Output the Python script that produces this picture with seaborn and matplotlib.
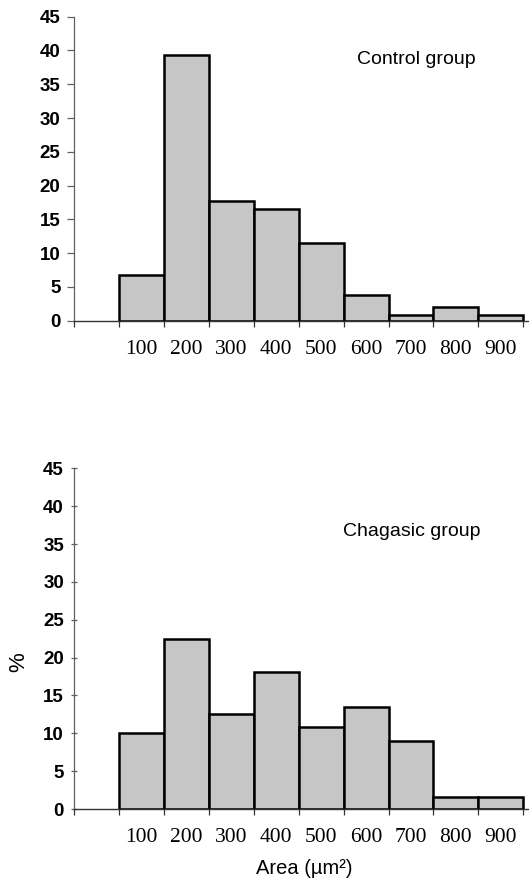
import matplotlib
matplotlib.use("Agg")
import matplotlib.pyplot as plt
import seaborn as sns
import pandas as pd

# bin centres (um^2) and percentages
area_centers = [100, 200, 300, 400, 500, 600, 700, 800, 900]
control_pct = [6.7, 39.4, 17.7, 16.5, 11.5, 3.8, 0.8, 2.1, 0.8]
chagasic_pct = [10.0, 22.5, 12.5, 18.1, 10.8, 13.5, 9.0, 1.6, 1.6]
tick_labels = ["100", "200", "300", "400", "500", "600", "700", "800", "900"]
y_ticks = [0, 5, 10, 15, 20, 25, 30, 35, 40, 45]

bin_edges = [c - 50 for c in area_centers] + [area_centers[-1] + 50]
tick_edges = [bin_edges[0] - 100] + bin_edges

sns.set_theme(style="white")
plt.rcParams["font.family"] = ["Liberation Sans", "DejaVu Sans"]
plt.rcParams["text.color"] = "black"
plt.rcParams["xtick.labelcolor"] = "black"
plt.rcParams["ytick.labelcolor"] = "black"

W, H = 529, 885
fig = plt.figure(figsize=(W / 100, H / 100), dpi=100)


def panel(rect, values, label, label_xy, ytick_dir):
    ax = fig.add_axes(rect)
    df = pd.DataFrame({"area": area_centers, "pct": values})
    sns.histplot(data=df, x="area", weights="pct", bins=bin_edges,
                 stat="count", color="#c6c6c6", alpha=1.0,
                 edgecolor="black", linewidth=1.8, ax=ax)
    ax.set_xlim(-50, 963)
    ax.set_ylim(0, 45)
    ax.set_xlabel("")
    ax.set_ylabel("")
    for s in ["top", "right"]:
        ax.spines[s].set_visible(False)
    ax.spines["left"].set_color("#606060")
    ax.spines["left"].set_linewidth(0.9)
    ax.spines["bottom"].set_color("#333333")
    ax.spines["bottom"].set_linewidth(1.0)

    ax.set_yticks(y_ticks)
    ax.set_yticklabels([str(t) for t in y_ticks], fontsize=13.5,
                       fontweight="bold", family="Liberation Sans")
    ax.tick_params(axis="y", direction=ytick_dir, length=5, width=0.9,
                   color="#606060", pad=5, left=True)

    ax.set_xticks(tick_edges)
    ax.set_xticklabels([])
    ax.set_xticks(area_centers, minor=True)
    ax.set_xticklabels(tick_labels, minor=True, fontsize=15.5,
                       family="Liberation Serif")
    ax.tick_params(axis="x", which="major", direction="out", length=4,
                   width=0.9, color="#333333", bottom=True)
    ax.tick_params(axis="x", which="minor", length=0, pad=14, bottom=True)

    ax.text(label_xy[0], label_xy[1], label, ha="center", va="center",
            fontsize=14)
    return ax


ax_top = panel([74.3 / W, 1 - 320.7 / H, 1 - 74.3 / W, (320.7 - 16.7) / H],
               control_pct, "Control group", (711, 38.7), "out")
ax_bot = panel([74.3 / W, 1 - 809 / H, 1 - 74.3 / W, (809 - 468.3) / H],
               chagasic_pct, "Chagasic group", (702, 36.7), "inout")

fig.text(19 / W, 1 - 662 / H, "%", rotation=90, ha="center", va="center",
         fontsize=16)
fig.text(304 / W, 1 - 869 / H, "Area (\u00b5m\u00b2)", ha="center",
         va="center", fontsize=14.5)

fig.savefig("out.png", dpi=100)
